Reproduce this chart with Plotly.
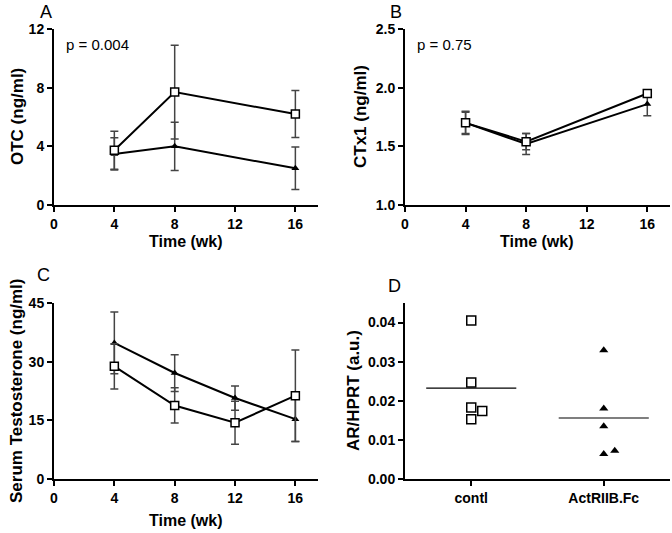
import plotly.graph_objects as go

# ---- data ----
weeks_ab = [4, 8, 16]
otc_contl = [3.73, 7.7, 6.2]
otc_contl_err = [1.3, 3.2, 1.6]
otc_act = [3.48, 4.0, 2.5]
otc_act_err = [1.1, 1.65, 1.45]

ctx_contl = [1.70, 1.54, 1.95]
ctx_contl_err = [0.09, 0.07, 0.02]
ctx_act = [1.70, 1.52, 1.86]
ctx_act_err = [0.10, 0.09, 0.10]

weeks_c = [4, 8, 12, 16]
testo_contl = [28.8, 18.8, 14.4, 21.3]
testo_contl_err = [5.8, 4.5, 5.5, 11.7]
testo_act = [34.8, 27.1, 20.7, 15.3]
testo_act_err = [7.9, 4.7, 3.1, 5.7]

groups = ["contl", "ActRIIB.Fc"]
ar_contl = [0.0405, 0.0247, 0.0183, 0.0174, 0.0153]
ar_act = [0.0329, 0.0180, 0.0135, 0.0064, 0.0072]
jitter_contl = [0, 0, 0, 0.083, 0]
jitter_act = [0, 0, 0, 0, 0.083]

FONT = "Liberation Sans, Arial, sans-serif"
ERRC = "#444444"

fig = go.Figure()

def add_series(x, y, err, kind, xa, ya):
    if kind == "sq":
        marker = dict(symbol="square", size=8, color="white", line=dict(color="black", width=1.5))
    else:
        marker = dict(symbol="triangle-up", size=7, color="black", line=dict(width=0))
    fig.add_trace(go.Scatter(
        x=x, y=y, mode="lines+markers", xaxis=xa, yaxis=ya,
        line=dict(color="black", width=2), marker=marker,
        error_y=dict(type="data", array=err, visible=True, color=ERRC, thickness=1.5, width=4),
        showlegend=False, cliponaxis=False))

# A
add_series(weeks_ab, otc_act, otc_act_err, "tri", "x", "y")
add_series(weeks_ab, otc_contl, otc_contl_err, "sq", "x", "y")
# B
add_series(weeks_ab, ctx_act, ctx_act_err, "tri", "x2", "y2")
add_series(weeks_ab, ctx_contl, ctx_contl_err, "sq", "x2", "y2")
# C
add_series(weeks_c, testo_act, testo_act_err, "tri", "x3", "y3")
add_series(weeks_c, testo_contl, testo_contl_err, "sq", "x3", "y3")

# D scatter
fig.add_trace(go.Scatter(
    x=[0 + j for j in jitter_contl], y=ar_contl, mode="markers", xaxis="x4", yaxis="y4",
    marker=dict(symbol="square", size=9, color="white", line=dict(color="black", width=1.5)),
    showlegend=False, cliponaxis=False))
fig.add_trace(go.Scatter(
    x=[1 + j for j in jitter_act], y=ar_act, mode="markers", xaxis="x4", yaxis="y4",
    marker=dict(symbol="triangle-up", size=8, color="black"),
    showlegend=False, cliponaxis=False))
# mean lines
for i, vals in enumerate([ar_contl, ar_act]):
    m = sum(vals) / len(vals)
    fig.add_trace(go.Scatter(
        x=[i - 0.34, i + 0.34], y=[m, m], mode="lines", xaxis="x4", yaxis="y4",
        line=dict(color="black", width=1.2), showlegend=False))

W, H = 672, 533
def fx(px): return px / W
def fy(py): return 1 - py / H

axcommon = dict(showline=True, linecolor="black", linewidth=2, ticks="outside",
                ticklen=5, tickwidth=2, tickcolor="black", showgrid=False, zeroline=False,
                automargin=False,
                tickfont=dict(family=FONT, size=14, color="black", weight="bold"))

layout = dict(
    width=W, height=H, margin=dict(l=0, r=0, t=0, b=0),
    plot_bgcolor="white", paper_bgcolor="white",
    xaxis=dict(domain=[fx(54), fx(318)], range=[0, 17.5], tickvals=[0, 4, 8, 12, 16],
               anchor="y", **axcommon),
    yaxis=dict(domain=[fy(205), fy(29)], range=[0, 12], tickvals=[0, 4, 8, 12],
               anchor="x", **axcommon),
    xaxis2=dict(domain=[fx(405), fx(670)], range=[0, 17.5], tickvals=[0, 4, 8, 12, 16],
                anchor="y2", **axcommon),
    yaxis2=dict(domain=[fy(205), fy(29)], range=[1.0, 2.5], tickvals=[1.0, 1.5, 2.0, 2.5],
                tickformat=".1f", anchor="x2", **axcommon),
    xaxis3=dict(domain=[fx(54), fx(318)], range=[0, 17.5], tickvals=[0, 4, 8, 12, 16],
                anchor="y3", **axcommon),
    yaxis3=dict(domain=[fy(479), fy(303)], range=[0, 45], tickvals=[0, 15, 30, 45],
                anchor="x3", **axcommon),
    xaxis4=dict(domain=[fx(405), fx(670)], range=[-0.5, 1.5], tickvals=[0, 1], ticktext=groups,
                anchor="y4", **axcommon),
    yaxis4=dict(domain=[fy(479), fy(303)], range=[0, 0.045], tickvals=[0, 0.01, 0.02, 0.03, 0.04],
                tickformat=".2f", anchor="x4", **axcommon),
)
fig.update_layout(**layout)

def ann(x, y, text, size, bold=False, angle=0, xanchor="left"):
    fig.add_annotation(x=fx(x), y=fy(y), xref="paper", yref="paper", text=text,
                       showarrow=False, xanchor=xanchor, yanchor="middle", textangle=angle,
                       font=dict(family=FONT, size=size, color="black",
                                 weight="bold" if bold else "normal"))

# panel letters & p-values
ann(38, 12, "A", 18)
ann(388, 12, "B", 18)
ann(35, 275, "C", 18)
ann(386, 286, "D", 18)
ann(64, 45, "p = 0.004", 15)
ann(415, 45, "p = 0.75", 15)

# axis titles
ann(186, 242, "Time (wk)", 16, bold=True, xanchor="center")
ann(537, 242, "Time (wk)", 16, bold=True, xanchor="center")
ann(186, 520, "Time (wk)", 16, bold=True, xanchor="center")
ann(18, 117, "OTC (ng/ml)", 17, bold=True, angle=-90, xanchor="center")
ann(361, 117, "CTx1 (ng/ml)", 17, bold=True, angle=-90, xanchor="center")
ann(16, 391, "Serum Testosterone (ng/ml)", 17, bold=True, angle=-90, xanchor="center")
ann(353, 391, "AR/HPRT (a.u.)", 17, bold=True, angle=-90, xanchor="center")

# remove the default page margin so the figure fills the window exactly
fig.write_html("out.html", config={"displayModeBar": False},
               post_script="document.body.style.margin='0';")
